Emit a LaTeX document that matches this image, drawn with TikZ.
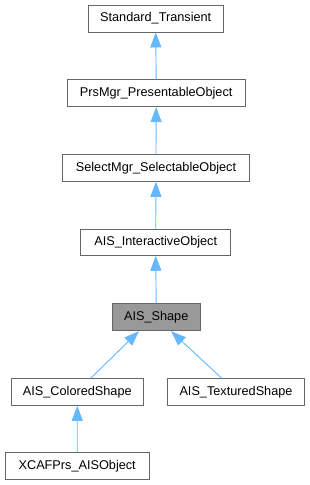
\documentclass[tikz,border=0pt]{standalone}
\usepackage{fontspec}
\setmainfont{Liberation Sans}
\usetikzlibrary{arrows.meta}
\definecolor{edgeblue}{HTML}{63B8FF}
\definecolor{boxline}{HTML}{666666}
\definecolor{hlfill}{HTML}{999999}
\begin{document}
\begin{tikzpicture}[x=1pt,y=-1pt,
  cls/.style={draw=boxline,line width=0.9pt,fill=white,rectangle,inner sep=0pt,
    font=\fontsize{12.7}{14}\selectfont,text=black},
  hl/.style={cls,fill=hlfill},
  inh/.style={draw=edgeblue,line width=0.9pt,
    {Triangle[length=15pt,width=11pt,fill=edgeblue]}-}]
\useasboundingbox[fill=white] (0,0) rectangle (310,485);
\node[cls,minimum width=135pt,minimum height=27pt] (st) at (155.7,18.5) {Standard\_Transient};
\node[cls,minimum width=177.7pt,minimum height=27pt] (prs) at (156.2,93.2) {PrsMgr\_PresentableObject};
\node[cls,minimum width=186.7pt,minimum height=26.7pt] (sel) at (156,168) {SelectMgr\_SelectableObject};
\node[cls,minimum width=150pt,minimum height=26pt] (io) at (155.7,242.3) {AIS\_InteractiveObject};
\node[hl,minimum width=87.7pt,minimum height=27pt] (shape) at (156.2,317.2) {AIS\_Shape};
\node[cls,minimum width=132.7pt,minimum height=26.7pt] (col) at (77.3,392) {AIS\_ColoredShape};
\node[cls,minimum width=137.3pt,minimum height=26.7pt] (tex) at (236,392) {AIS\_TexturedShape};
\node[cls,minimum width=144.3pt,minimum height=27pt] (xcaf) at (77.2,466.2) {XCAFPrs\_AISObject};
\draw[inh] (st.south) -- (prs.north);
\draw[inh] (prs.south) -- (sel.north);
\draw[inh] (sel.south) -- (io.north);
\draw[inh] (io.south) -- (shape.north);
\draw[inh] ([xshift=-17.2pt]shape.south) -- ([xshift=13.4pt]col.north);
\draw[inh] ([xshift=14.8pt]shape.south) -- ([xshift=-14.3pt]tex.north);
\draw[inh] (col.south) -- (xcaf.north);
\end{tikzpicture}
\end{document}
